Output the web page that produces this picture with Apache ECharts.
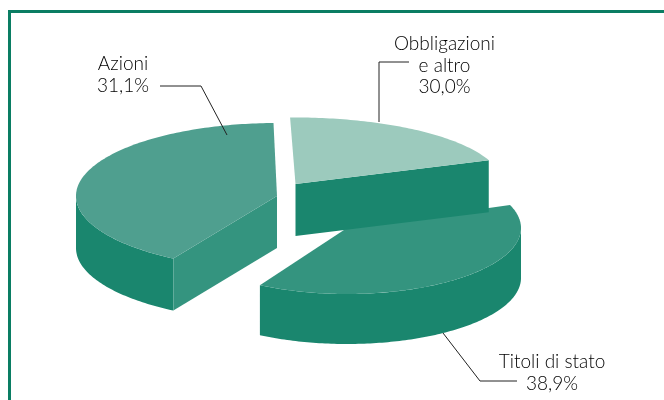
<!DOCTYPE html>
<html><head><meta charset="utf-8">
<style>html,body{margin:0;padding:0;background:#fff}#c{width:664px;height:400px}</style>
<script src="https://cdn.jsdelivr.net/npm/echarts@6/dist/echarts.min.js"></script>
</head><body><div id="c"></div>
<script>
// Data
var categories = ['Azioni', 'Titoli di stato', 'Obbligazioni'];
var labelLines = [['Azioni'], ['Titoli di stato'], ['Obbligazioni', 'e altro']];
var printedValues = ['31,1%', '38,9%', '30,0%'];
// Shares of the circle as actually drawn in the picture (differ from printed values)
var drawnShares = [41.1, 38.9, 20.0];

// Layout / style
var START = 91, DEPTH = [52, 50, 52];
var NUDGE = [[0, 0], [1, 1.5], [2, 0.5]];
var CENTERS = [[277, 196], [347, 228], [295.5, 184]];
var RADII = [[201, 73], [174, 66], [207, 66.5]];
var TOP = ['#4f9f8f', '#34947f', '#9ccabd'], WALL = '#1a866e', CUT = ['#34947f', WALL, WALL];
var LEADERS = [
  [[160, 86], [201, 86], [227, 135]],
  [[517, 381], [480, 381], [443, 333]],
  [[409, 62], [379, 62], [379, 122]]
];
var TEXT_POS = [[123, 64], [552, 362], [444.5, 44]];
var LINE_H = 21.5;

function rad(d){return d*Math.PI/180;}
function pt(i,t,dz){return [CENTERS[i][0]+RADII[i][0]*Math.cos(rad(t)), CENTERS[i][1]-RADII[i][1]*Math.sin(rad(t))+(dz||0)];}
function arc(i,a,b,dz){var n=Math.max(2,Math.ceil(Math.abs(b-a))),r=[];for(var k=0;k<=n;k++)r.push(pt(i,a+(b-a)*k/n,dz));return r;}
function poly(points,fill,z){return {type:'polygon',z2:z,shape:{points:points},style:{fill:fill}};}

var ranges=[],acc=START,total=drawnShares.reduce(function(s,v){return s+v;},0);
drawnShares.forEach(function(v,i){var e=acc+v/total*360;ranges.push([acc+NUDGE[i][0],e+NUDGE[i][1]]);acc=e;});

function renderItem(params){
  var i=params.dataIndex,a=ranges[i][0],b=ranges[i][1],d=DEPTH[i],c=CENTERS[i],kids=[];
  var cb=[c[0],c[1]+d];
  var wa=Math.max(a,180),wb=Math.min(b,360);
  if(wb>wa){
    kids.push(poly(arc(i,wa,wb,0).concat(arc(i,wb,wa,d)),WALL,i*10+1));
  }
  [a,b].forEach(function(t){
    var visible=(i===0&&t===b)||(i===2&&t===a);
    if(visible)kids.push(poly([c,pt(i,t,0),pt(i,t,d),cb],CUT[i],i*10+2));
  });
  kids.push(poly([c].concat(arc(i,a,b,0)),TOP[i],i*10+3));
  kids.push({type:'polyline',z2:100,shape:{points:LEADERS[i]},style:{fill:null,stroke:'#222',lineWidth:1}});
  labelLines[i].concat([printedValues[i]]).forEach(function(s,k){
    kids.push({type:'text',z2:100,style:{text:s,x:TEXT_POS[i][0],y:TEXT_POS[i][1]+k*LINE_H,
      align:'center',verticalAlign:'middle',fill:'#000',font:'300 19px Lato, sans-serif'}});
  });
  return {type:'group',children:kids};
}

var chart=echarts.init(document.getElementById('c'),null,{renderer:'canvas'});
chart.setOption({
  animation:false,
  backgroundColor:'#fff',
  graphic:[{type:'rect',silent:true,z:-1,shape:{x:9.5,y:11.5,width:700,height:420},
    style:{fill:'#fff',stroke:'#0a7d63',lineWidth:3}}],
  series:[{type:'custom',coordinateSystem:'none',silent:true,renderItem:renderItem,
    data:categories.map(function(n,i){return {name:n,value:drawnShares[i]};})}]
});
</script></body></html>
